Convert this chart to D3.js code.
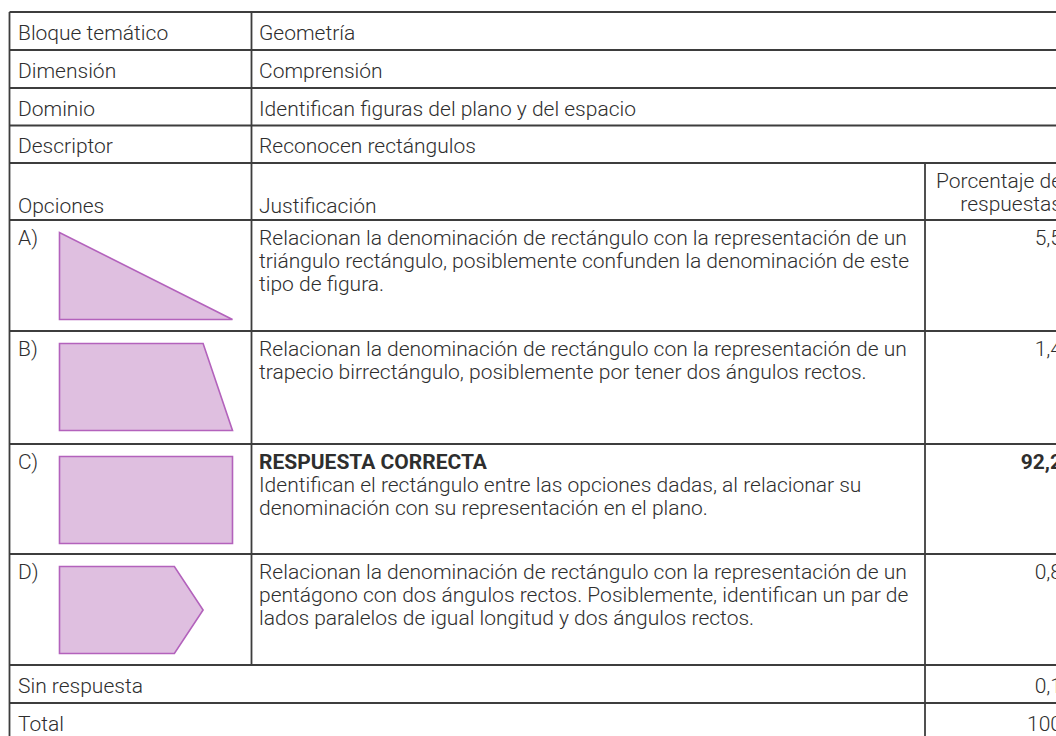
<!DOCTYPE html>
<html>
<head>
<meta charset="utf-8">
<script src="https://cdn.jsdelivr.net/npm/d3@7"></script>
<style>
html,body{margin:0;padding:0;background:#fff;}
svg{display:block;}
text{font-family:Roboto,"Noto Sans",sans-serif;font-weight:300;fill:#2e2e2e;}
</style>
</head>
<body>
<svg id="chart" width="1056" height="736"></svg>
<script>
// ---- data ----
const infoLabels = ["Bloque temático", "Dimensión", "Dominio", "Descriptor"];
const infoValues = ["Geometría", "Comprensión", "Identifican figuras del plano y del espacio", "Reconocen rectángulos"];
const headerLabels = ["Opciones", "Justificación", ["Porcentaje de", "respuestas"]];
const options = ["A)", "B)", "C)", "D)"];
const percentages = ["5,5", "1,4", "92,2", "0,8"];
const correctIndex = 2;
const correctLabel = "RESPUESTA CORRECTA";
const justifications = [
  ["Relacionan la denominación de rectángulo con la representación de un",
   "triángulo rectángulo, posiblemente confunden la denominación de este",
   "tipo de figura."],
  ["Relacionan la denominación de rectángulo con la representación de un",
   "trapecio birrectángulo, posiblemente por tener dos ángulos rectos."],
  ["Identifican el rectángulo entre las opciones dadas, al relacionar su",
   "denominación con su representación en el plano."],
  ["Relacionan la denominación de rectángulo con la representación de un",
   "pentágono con dos ángulos rectos. Posiblemente, identifican un par de",
   "lados paralelos de igual longitud y dos ángulos rectos."]
];
// option figures, vertices in unit box
const shapeTriangle = [[0,0],[0,1],[1,1]];
const shapeTrapezoid = [[0,0],[0.83,0],[1,1],[0,1]];
const shapeRectangle = [[0,0],[1,0],[1,1],[0,1]];
const shapePentagon = [[0,0],[0.8,0],[1,0.5],[0.8,1],[0,1]];
const shapes = [shapeTriangle, shapeTrapezoid, shapeRectangle, shapePentagon];
const shapeWidths = [1, 1, 1, 0.83];
const footerLabels = ["Sin respuesta", "Total"];
const footerValues = ["0,1", "100"];

// ---- layout ----
const svg = d3.select("#chart");
const X0 = 9.5, X1 = 251.5, X2 = 925, X3 = 1100;
const rowHeights = [38, 38, 37.5, 37.5, 57, 111, 113, 110, 111, 38, 38];
const rowTops = [12];
rowHeights.forEach((h, i) => rowTops.push(rowTops[i] + h));
const FS = 21, LH = 22.8;
const lineColor = "#3d3d3d";

const g = svg.append("g");

// figures
const sx = d3.scaleLinear().domain([0, 1]).range([0, 173]);
const sy = d3.scaleLinear().domain([0, 1]).range([0, 87]);
const line = d3.line().x(d => sx(d[0])).y(d => sy(d[1])).curve(d3.curveLinearClosed);
shapes.forEach((s, i) => {
  const top = rowTops[5 + i];
  g.append("path")
    .attr("transform", `translate(59.5,${top + 12.5})`)
    .attr("d", line(s.map(p => [p[0] * shapeWidths[i], p[1]])))
    .attr("fill", "#dfbfe0")
    .attr("stroke", "#b362bc")
    .attr("stroke-width", 1.6)
    .attr("stroke-linejoin", "miter");
});

// grid lines
const hLines = rowTops.slice(0, 11);
g.selectAll("line.h").data(hLines).join("line")
  .attr("x1", X0).attr("x2", X3).attr("y1", d => d).attr("y2", d => d)
  .attr("stroke", lineColor).attr("stroke-width", 1.8);
g.append("line").attr("x1", X0).attr("x2", X0).attr("y1", rowTops[0]).attr("y2", 760)
  .attr("stroke", lineColor).attr("stroke-width", 1.8);
g.append("line").attr("x1", X1).attr("x2", X1).attr("y1", rowTops[0]).attr("y2", rowTops[9])
  .attr("stroke", lineColor).attr("stroke-width", 1.8);
g.append("line").attr("x1", X2).attr("x2", X2).attr("y1", rowTops[4]).attr("y2", 760)
  .attr("stroke", lineColor).attr("stroke-width", 1.8);

const TX0 = 18, TX1 = 259, TXR = 1062;

// info rows
infoLabels.forEach((lab, i) => {
  const b = rowTops[i] + 27.5;
  g.append("text").attr("x", TX0).attr("y", b).attr("font-size", FS).text(lab);
  g.append("text").attr("x", TX1).attr("y", b).attr("font-size", FS).text(infoValues[i]);
});

// header row
const hb = rowTops[4] + 48;
g.append("text").attr("x", TX0).attr("y", hb + 2).attr("font-size", FS).text(headerLabels[0]);
g.append("text").attr("x", TX1).attr("y", hb + 2).attr("font-size", FS).text(headerLabels[1]);
headerLabels[2].forEach((t, k) => {
  g.append("text").attr("x", TXR).attr("y", hb - LH * (1 - k)).attr("font-size", FS)
    .attr("text-anchor", "end").text(t);
});

// option rows
options.forEach((o, i) => {
  const b = rowTops[5 + i] + 25;
  g.append("text").attr("x", TX0).attr("y", b).attr("font-size", FS).text(o);
  let lines = justifications[i].map(t => ({t, bold: false}));
  if (i === correctIndex) lines = [{t: correctLabel, bold: true}].concat(lines);
  lines.forEach((l, k) => {
    g.append("text").attr("x", TX1).attr("y", b + k * LH).attr("font-size", FS)
      .style("font-weight", l.bold ? 700 : 300).text(l.t);
  });
  g.append("text").attr("x", TXR).attr("y", b).attr("font-size", FS)
    .attr("text-anchor", "end").style("font-weight", i === correctIndex ? 700 : 300)
    .text(percentages[i]);
});

// footer rows
footerLabels.forEach((lab, i) => {
  const b = rowTops[9 + i] + 27.5;
  g.append("text").attr("x", TX0).attr("y", b).attr("font-size", FS).text(lab);
  g.append("text").attr("x", TXR).attr("y", b).attr("font-size", FS)
    .attr("text-anchor", "end").text(footerValues[i]);
});
</script>
</body>
</html>
